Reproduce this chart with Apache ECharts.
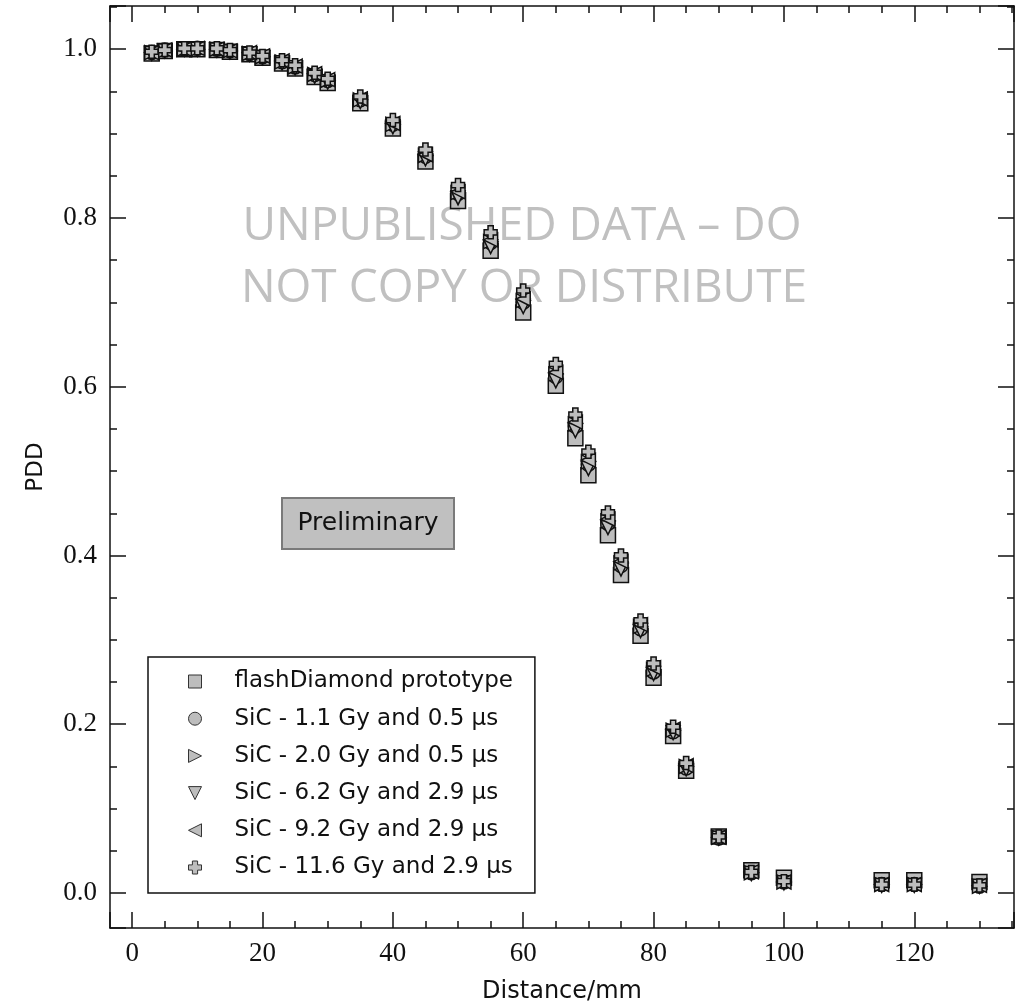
<!DOCTYPE html>
<html>
<head>
<meta charset="utf-8">
<script src="https://cdn.jsdelivr.net/npm/echarts@6/dist/echarts.min.js"></script>
<style>
  html, body { margin: 0; padding: 0; background: #fff; }
  #main { width: 1018px; height: 1008px; }
</style>
</head>
<body>
<div id="main"></div>
<script>
// distancias medidas (mm)
var distancias = [3, 5, 8, 10, 13, 15, 18, 20, 23, 25, 28, 30, 35, 40, 45, 50, 55, 60, 65, 68, 70, 73, 75, 78, 80, 83, 85, 90, 95, 100, 115, 120, 130];

var pddDiamond = [0.995, 0.998, 1.000, 1.000, 0.999, 0.997, 0.994, 0.990, 0.983, 0.977, 0.967, 0.960, 0.936, 0.906, 0.867, 0.820, 0.761, 0.688, 0.601, 0.539, 0.495, 0.424, 0.377, 0.305, 0.255, 0.186, 0.145, 0.067, 0.027, 0.018, 0.015, 0.015, 0.013];
var pddSic11 = [0.996, 0.999, 1.000, 1.001, 1.000, 0.998, 0.995, 0.991, 0.985, 0.979, 0.970, 0.963, 0.940, 0.911, 0.873, 0.829, 0.771, 0.700, 0.612, 0.553, 0.508, 0.438, 0.388, 0.313, 0.262, 0.191, 0.148, 0.065, 0.024, 0.013, 0.010, 0.010, 0.008];
var pddSic20 = [0.996, 0.998, 1.000, 1.000, 1.000, 0.998, 0.995, 0.991, 0.985, 0.979, 0.970, 0.963, 0.940, 0.911, 0.874, 0.830, 0.772, 0.702, 0.615, 0.556, 0.511, 0.441, 0.391, 0.316, 0.265, 0.193, 0.150, 0.066, 0.024, 0.013, 0.010, 0.010, 0.008];
var pddSic62 = [0.995, 0.998, 1.000, 1.000, 0.999, 0.997, 0.994, 0.990, 0.984, 0.978, 0.968, 0.961, 0.938, 0.908, 0.870, 0.824, 0.766, 0.695, 0.607, 0.548, 0.503, 0.433, 0.384, 0.311, 0.260, 0.190, 0.147, 0.065, 0.023, 0.012, 0.009, 0.009, 0.008];
var pddSic92 = [0.996, 0.999, 1.000, 1.001, 1.000, 0.998, 0.996, 0.992, 0.986, 0.980, 0.971, 0.964, 0.941, 0.912, 0.875, 0.831, 0.774, 0.704, 0.617, 0.558, 0.513, 0.443, 0.393, 0.318, 0.267, 0.194, 0.151, 0.066, 0.025, 0.013, 0.010, 0.010, 0.009];
var pddSic116 = [0.997, 0.999, 1.001, 1.001, 1.001, 0.999, 0.996, 0.992, 0.987, 0.981, 0.972, 0.965, 0.944, 0.916, 0.881, 0.839, 0.783, 0.714, 0.627, 0.567, 0.523, 0.451, 0.400, 0.323, 0.272, 0.197, 0.154, 0.067, 0.025, 0.014, 0.010, 0.010, 0.009];

var nomes = ['flashDiamond prototype', 'SiC - 1.1 Gy and 0.5 \u03bcs', 'SiC - 2.0 Gy and 0.5 \u03bcs', 'SiC - 6.2 Gy and 2.9 \u03bcs', 'SiC - 9.2 Gy and 2.9 \u03bcs', 'SiC - 11.6 Gy and 2.9 \u03bcs'];
var dados = [pddDiamond, pddSic11, pddSic20, pddSic62, pddSic92, pddSic116];
var simbolos = [
	'rect',
	'circle',
	'path://M0,0L10,5L0,10Z',
	'path://M0,0L10,0L5,10Z',
	'path://M10,0L0,5L10,10Z',
	'path://M3,0H7V3H10V7H7V10H3V7H0V3H3Z'
];
var tamanhos = [15, 14, 14, 14, 14, 13];

var fonteSerif = 'Liberation Serif';
var fonteSans = 'DejaVu Sans';

function montarPares(valores) {
	var pares = [];
	for (var i = 0; i < distancias.length; i++) {
		pares.push([distancias[i], valores[i]]);
	}
	return pares;
}

var series = [];
var legenda = [];
for (var i = 0; i < nomes.length; i++) {
	series.push({
		name: nomes[i],
		type: 'scatter',
		data: montarPares(dados[i]),
		symbol: simbolos[i],
		symbolSize: tamanhos[i],
		itemStyle: { color: '#bdbdbd', borderColor: '#111', borderWidth: 1.5, opacity: 1 },
		z: 3 + i
	});
	legenda.push({ name: nomes[i], icon: simbolos[i] });
}

function eixoX(posicao, mostrarRotulos) {
	return {
		type: 'value',
		position: posicao,
		min: -3.4,
		max: 135.3,
		splitNumber: 7,
		name: mostrarRotulos ? 'Distance/mm' : '',
		nameLocation: 'middle',
		nameGap: 52,
		nameTextStyle: { fontFamily: fonteSans, fontSize: 24, color: '#111' },
		axisLine: { show: true, onZero: false, lineStyle: { color: '#111', width: 1.5 } },
		axisTick: { show: true, inside: true, length: 16, lineStyle: { color: '#111', width: 1.5 } },
		minorTick: { show: true, splitNumber: 4, length: 7, lineStyle: { color: '#111', width: 1.5 } },
		axisLabel: { show: mostrarRotulos, showMinLabel: false, showMaxLabel: false, fontFamily: fonteSerif, fontSize: 27, color: '#111', margin: 12 },
		splitLine: { show: false }
	};
}

function eixoY(posicao, mostrarRotulos) {
	return {
		type: 'value',
		position: posicao,
		min: -0.0415,
		max: 1.0512,
		splitNumber: 5,
		name: mostrarRotulos ? 'PDD' : '',
		nameLocation: 'middle',
		nameGap: 62,
		nameTextStyle: { fontFamily: fonteSans, fontSize: 23, color: '#111' },
		axisLine: { show: true, onZero: false, lineStyle: { color: '#111', width: 1.5 } },
		axisTick: { show: true, inside: true, length: 16, lineStyle: { color: '#111', width: 1.5 } },
		minorTick: { show: true, splitNumber: 4, length: 7, lineStyle: { color: '#111', width: 1.5 } },
		axisLabel: {
			show: mostrarRotulos, showMinLabel: false, showMaxLabel: false,
			fontFamily: fonteSerif, fontSize: 27, color: '#111', margin: 13,
			formatter: function (v) { return v.toFixed(1); }
		},
		splitLine: { show: false }
	};
}

var myChart = echarts.init(document.getElementById('main'));
var option = {
	backgroundColor: '#fff',
	animation: false,
	grid: { left: 110, right: 4, top: 6, bottom: 80, containLabel: false, outerBoundsMode: 'none' },
	xAxis: [eixoX('bottom', true), eixoX('top', false)],
	yAxis: [eixoY('left', true), eixoY('right', false)],
	legend: {
		orient: 'vertical',
		left: 148,
		top: 657,
		padding: [13, 22, 14, 40],
		itemGap: 14.2,
		itemWidth: 13,
		itemHeight: 13,
		borderColor: '#111',
		borderWidth: 1.5,
		borderRadius: 0,
		backgroundColor: '#fff',
		data: legenda,
		textStyle: { fontFamily: fonteSans, fontSize: 23, lineHeight: 23, color: '#111', padding: [0, 0, 0, 28] },
		itemStyle: { color: '#bdbdbd', borderColor: '#333', borderWidth: 1 }
	},
	graphic: [
		{
			type: 'text', z: 1,
			style: { text: 'UNPUBLISHED DATA \u2013 DO', x: 522, y: 204, align: 'center', fontFamily: 'Open Sans', fontSize: 46, fill: '#c0c0c0' }
		},
		{
			type: 'text', z: 1,
			style: { text: 'NOT COPY OR DISTRIBUTE', x: 524, y: 266, align: 'center', fontFamily: 'Open Sans', fontSize: 46, fill: '#c0c0c0' }
		},
		{
			type: 'group', left: 281, top: 497, z: 10,
			children: [
				{ type: 'rect', shape: { x: 0, y: 0, width: 172, height: 51 }, style: { fill: '#c0c0c0', stroke: '#7a7a7a', lineWidth: 2 } },
				{ type: 'text', style: { text: 'Preliminary', x: 86, y: 25.5, align: 'center', verticalAlign: 'middle', fontFamily: fonteSans, fontSize: 25, fill: '#111' } }
			]
		}
	],
	series: series
};
myChart.setOption(option);
</script>
</body>
</html>
